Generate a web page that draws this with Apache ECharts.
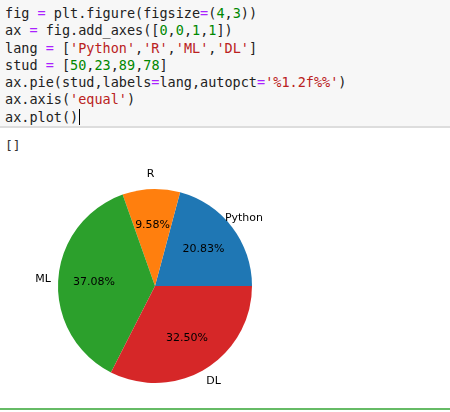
<!DOCTYPE html>
<html>
<head>
<meta charset="utf-8">
<script src="https://cdn.jsdelivr.net/npm/echarts@6/dist/echarts.min.js"></script>
<style>
  body { margin: 0; width: 450px; height: 412px; background: #fff; overflow: hidden; position: relative; }
  .code { background: #f7f7f7; border-bottom: 2px solid #ddd; height: 128px; padding: 5px 0 0 5px; box-sizing: border-box;
          font: 13.5px/17.3px "DejaVu Sans Mono", monospace; color: #222; white-space: pre; margin: 0; }
  .op { color: #aa22ff; } .n { color: #008800; } .s { color: #ba2121; }
  .out { position: absolute; left: 5px; top: 138px; font: 13px "DejaVu Sans Mono", monospace; color: #333; }
  #chart { position: absolute; left: 0; top: 150px; width: 450px; height: 256px; }
  .sel { position: absolute; left: 0; top: 408px; width: 450px; height: 2px; background: #66bb66; }
</style>
</head>
<body>
<pre class="code">fig <span class="op">=</span> plt.figure(figsize<span class="op">=</span>(<span class="n">4</span>,<span class="n">3</span>))
ax <span class="op">=</span> fig.add_axes([<span class="n">0</span>,<span class="n">0</span>,<span class="n">1</span>,<span class="n">1</span>])
lang <span class="op">=</span> [<span class="s">'Python'</span>,<span class="s">'R'</span>,<span class="s">'ML'</span>,<span class="s">'DL'</span>]
stud <span class="op">=</span> [<span class="n">50</span>,<span class="n">23</span>,<span class="n">89</span>,<span class="n">78</span>]
ax.pie(stud,labels<span class="op">=</span>lang,autopct<span class="op">=</span><span class="s">'%1.2f%%'</span>)
ax.axis(<span class="s">'equal'</span>)
ax.plot()<span style="border-left:1px solid #000;margin-left:1px"></span></pre>
<div class="out">[]</div>
<div id="chart"></div>
<div class="sel"></div>
<script>
const lang = ['Python', 'R', 'ML', 'DL'];
const stud = [50, 23, 89, 78];
const colors = ['#1f77b4', '#ff7f0e', '#2ca02c', '#d62728'];

const total = stud.reduce((a, b) => a + b, 0);
const R = 97;
const center = [155, 136];
const data = lang.map((name, i) => ({ name: name, value: stud[i] }));
const ghost = { color: 'rgba(0,0,0,0)' };
const base = { type: 'pie', center: center, startAngle: 0, clockwise: false, silent: true, animation: false, labelLine: { show: false } };

const chart = echarts.init(document.getElementById('chart'));
chart.setOption({
  series: [
    Object.assign({}, base, {
      radius: [0, R], data: data,
      itemStyle: { color: p => colors[p.dataIndex] },
      label: { show: false }
    }),
    // percent labels at 0.6 r
    Object.assign({}, base, {
      radius: [0, 1.2 * R], data: data, itemStyle: ghost, z: 5,
      label: { show: true, position: 'inside', color: '#000', fontSize: 11, fontFamily: 'DejaVu Sans',
               formatter: p => (p.value / total * 100).toFixed(2) + '%' }
    }),
    // category labels at ~1.12 r
    Object.assign({}, base, {
      radius: [R, 1.25 * R], data: data, itemStyle: ghost, z: 5,
      label: { show: true, position: 'inside', color: '#000', fontSize: 11, fontFamily: 'DejaVu Sans',
               formatter: '{b}' }
    })
  ]
});
</script>
</body>
</html>
